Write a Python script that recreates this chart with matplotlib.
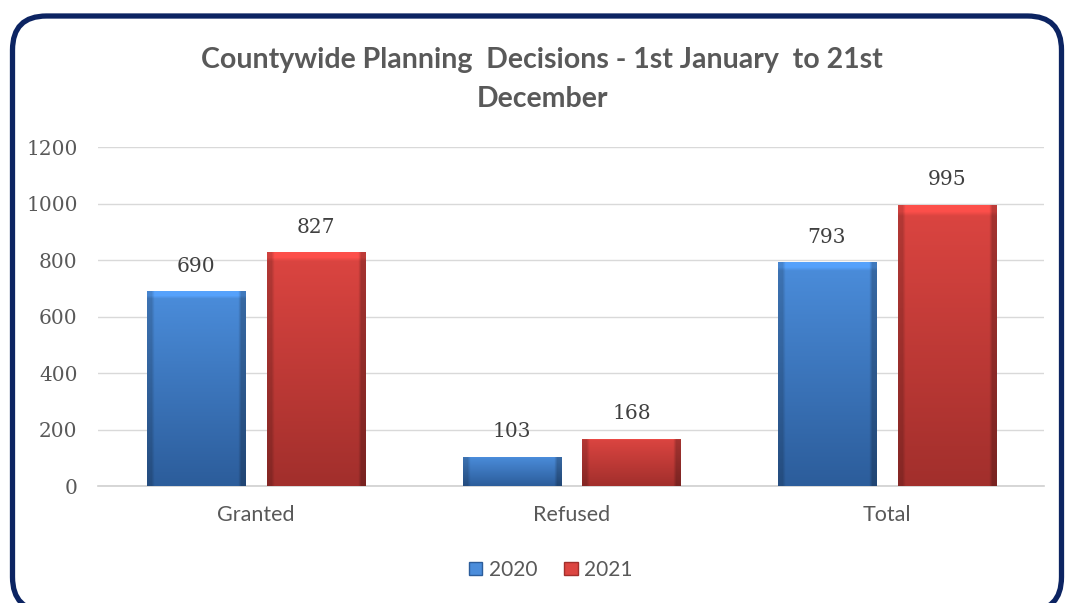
import numpy as np
import matplotlib
matplotlib.use("Agg")
import matplotlib.pyplot as plt
from matplotlib.patches import FancyBboxPatch, Patch
from matplotlib.colors import to_rgb

categories = ["Granted", "Refused", "Total"]
years = ["2020", "2021"]
values_2020 = [690, 103, 793]
values_2021 = [827, 168, 995]
yticks = [0, 200, 400, 600, 800, 1000, 1200]

title = "Countywide Planning  Decisions - 1st January  to 21st\nDecember"

text_grey = "#595959"
top_cols = ["#4b8ddb", "#dc4541"]
bot_cols = ["#2c5d9b", "#a22f2c"]


def bar_image(top, bot, ny=64, nx=32):
    top = np.array(to_rgb(top))
    bot = np.array(to_rgb(bot))
    t = np.linspace(0, 1, ny)[:, None, None]
    img = top * (1 - t) + bot * t
    img = np.repeat(img, nx, axis=1)
    # darker sides, lighter top strip for a bevel look
    img[:, :2] *= 0.82
    img[:, -2:] *= 0.75
    img[:2, :] = np.clip(img[:2, :] * 1.15, 0, 1)
    return img


fig = plt.figure(figsize=(10.67, 6.03), dpi=100)
ax = fig.add_axes([0.0923, 0.194, 0.8866, 0.562])

x = np.arange(len(categories))
width = 0.311
offset = 0.19

for i, vals in enumerate([values_2020, values_2021]):
    xs = x + (offset if i else -offset)
    bars = ax.bar(xs, vals, width, color=bot_cols[i], edgecolor="none", zorder=3)
    img = bar_image(top_cols[i], bot_cols[i])
    for b, v in zip(bars, vals):
        x0 = b.get_x()
        im = ax.imshow(img, extent=(x0, x0 + width, 0, v), aspect="auto",
                       origin="upper", zorder=3.5, interpolation="bilinear")
        im.set_clip_path(b)
        ax.text(b.get_x() + width / 2, v + 55, str(v), ha="center", va="bottom",
                fontsize=14.5, color="#404040", family="DejaVu Serif")

ax.set_xlim(-0.5, 2.5)
ax.set_ylim(0, 1200)
ax.set_yticks(yticks)
ax.set_yticklabels([str(t) for t in yticks], family="DejaVu Serif",
                   fontsize=14.5, color=text_grey)
ax.set_xticks(x)
ax.set_xticklabels(categories, family="Lato", fontsize=15.5, color=text_grey)
ax.tick_params(axis="both", length=0)
ax.tick_params(axis="y", pad=15)
ax.tick_params(axis="x", pad=14)
ax.grid(axis="y", color="#d9d9d9", lw=1, zorder=0)
for s in ["left", "right", "top"]:
    ax.spines[s].set_visible(False)
ax.spines["bottom"].set_color("#d0d0d0")
ax.spines["bottom"].set_linewidth(1.2)
ax.set_xlim(-0.5, 2.5)
ax.set_ylim(0, 1200)

fig.text(0.508, 0.922, title, ha="center", va="top", family="Lato",
         fontweight="bold", fontsize=20.5, color=text_grey, linespacing=1.62)

handles = [Patch(facecolor=top_cols[0], edgecolor=bot_cols[0]),
           Patch(facecolor=top_cols[1], edgecolor=bot_cols[1])]
leg = fig.legend(handles, years, loc="center", bbox_to_anchor=(0.516, 0.055),
                 ncol=2, frameon=False, handlelength=0.65, handleheight=0.65,
                 handletextpad=0.3, columnspacing=1.3,
                 prop={"family": "Lato", "size": 15})
for t in leg.get_texts():
    t.set_color(text_grey)

border = FancyBboxPatch((0.125, -0.08), 10.49, 5.95,
                        boxstyle="round,pad=0,rounding_size=0.34",
                        transform=fig.dpi_scale_trans, facecolor="none",
                        edgecolor="#0c2462", lw=3.8, clip_on=False)
fig.patches.append(border)

fig.savefig("out.png", dpi=100)
